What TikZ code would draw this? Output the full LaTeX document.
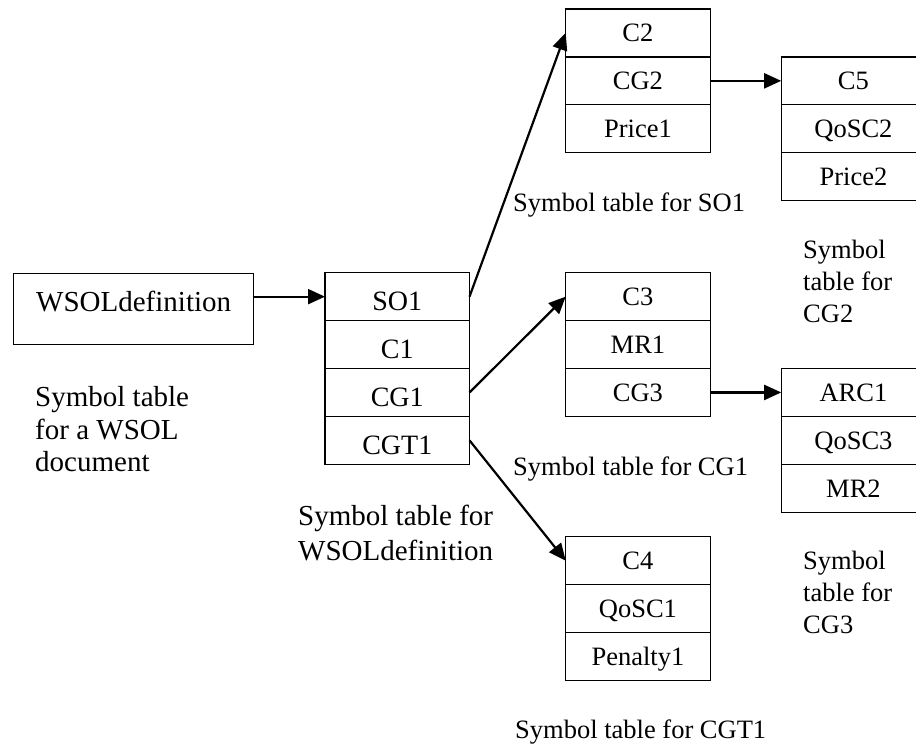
\documentclass[tikz,border=0pt]{standalone}
\usepackage{fontspec}
\setmainfont{Liberation Serif}
\usetikzlibrary{positioning,arrows.meta}

\begin{document}
\begin{tikzpicture}[x=1pt,y=-1pt,
  cell/.style={draw, line width=1.3pt, inner sep=0, outer sep=0, minimum width=144.5pt, text height=33pt, text depth=14.9pt, font=\fontsize{26.5}{32}\selectfont},
  maincell/.style={cell, text height=38pt, text depth=9.9pt, font=\fontsize{28}{32}\selectfont},
  note/.style={anchor=base west, inner sep=0, align=left, font=\fontsize{26.5}{32}\selectfont},
  conn/.style={line width=2.2pt, -{Triangle[length=17pt,width=15pt]}}]
\useasboundingbox (0,0) rectangle (916,746);
\clip (0,0) rectangle (916,746);
\node[draw, line width=1.3pt, inner sep=0, minimum width=240pt, text height=38.3pt, text depth=33pt, font=\fontsize{29}{34}\selectfont, anchor=north west] (wsol) at (13,272.7) {WSOLdefinition};
\node[maincell, anchor=north west] (so1) at (325,272.7) {SO1};
\node[maincell, below=0pt of so1] (c1) {C1};
\node[maincell, below=0pt of c1] (cg1) {CG1};
\node[maincell, below=0pt of cg1] (cgt1) {CGT1};
\node[cell, anchor=north west] (c2) at (565.7,9) {C2};
\node[cell, below=0pt of c2] (cg2) {CG2};
\node[cell, below=0pt of cg2] (price1) {Price1};
\node[cell, right=71pt of cg2] (c5) {C5};
\node[cell, below=0pt of c5] (qosc2) {QoSC2};
\node[cell, below=0pt of qosc2] (price2) {Price2};
\node[cell, anchor=north west] (c3) at (565.7,272.7) {C3};
\node[cell, below=0pt of c3] (mr1) {MR1};
\node[cell, below=0pt of mr1] (cg3) {CG3};
\node[cell, right=71pt of cg3] (arc1) {ARC1};
\node[cell, below=0pt of arc1] (qosc3) {QoSC3};
\node[cell, below=0pt of qosc3] (mr2) {MR2};
\node[cell, anchor=north west] (c4) at (565.7,536.7) {C4};
\node[cell, below=0pt of c4] (qosc1) {QoSC1};
\node[cell, below=0pt of qosc1] (penalty1) {Penalty1};
\node[note, font=\fontsize{29}{32.5}\selectfont] (notedoc) at (35,471.7) {Symbol table\\for a WSOL\\document};
\node[note, font=\fontsize{29}{34.5}\selectfont] (noteroot) at (298,560) {Symbol table for\\WSOLdefinition};
\node[note] (noteso1) at (513,212) {Symbol table for SO1};
\node[note] (notecg1) at (513,475) {Symbol table for CG1};
\node[note] (notecgt1) at (515,738) {Symbol table for CGT1};
\node[note] (notecg2) at (803,322) {Symbol\\table for\\CG2};
\node[note] (notecg3) at (803,633) {Symbol\\table for\\CG3};
\draw[conn] (wsol.east |- so1.west) -- (so1.west);
\draw[conn] (so1.east) -- (c2.west);
\draw[conn] (cg1.east) -- (c3.west);
\draw[conn] (cgt1.east) -- (c4.west);
\draw[conn] (cg2.east) -- (c5.west);
\draw[conn] (cg3.east) -- (arc1.west);
\end{tikzpicture}
\end{document}
